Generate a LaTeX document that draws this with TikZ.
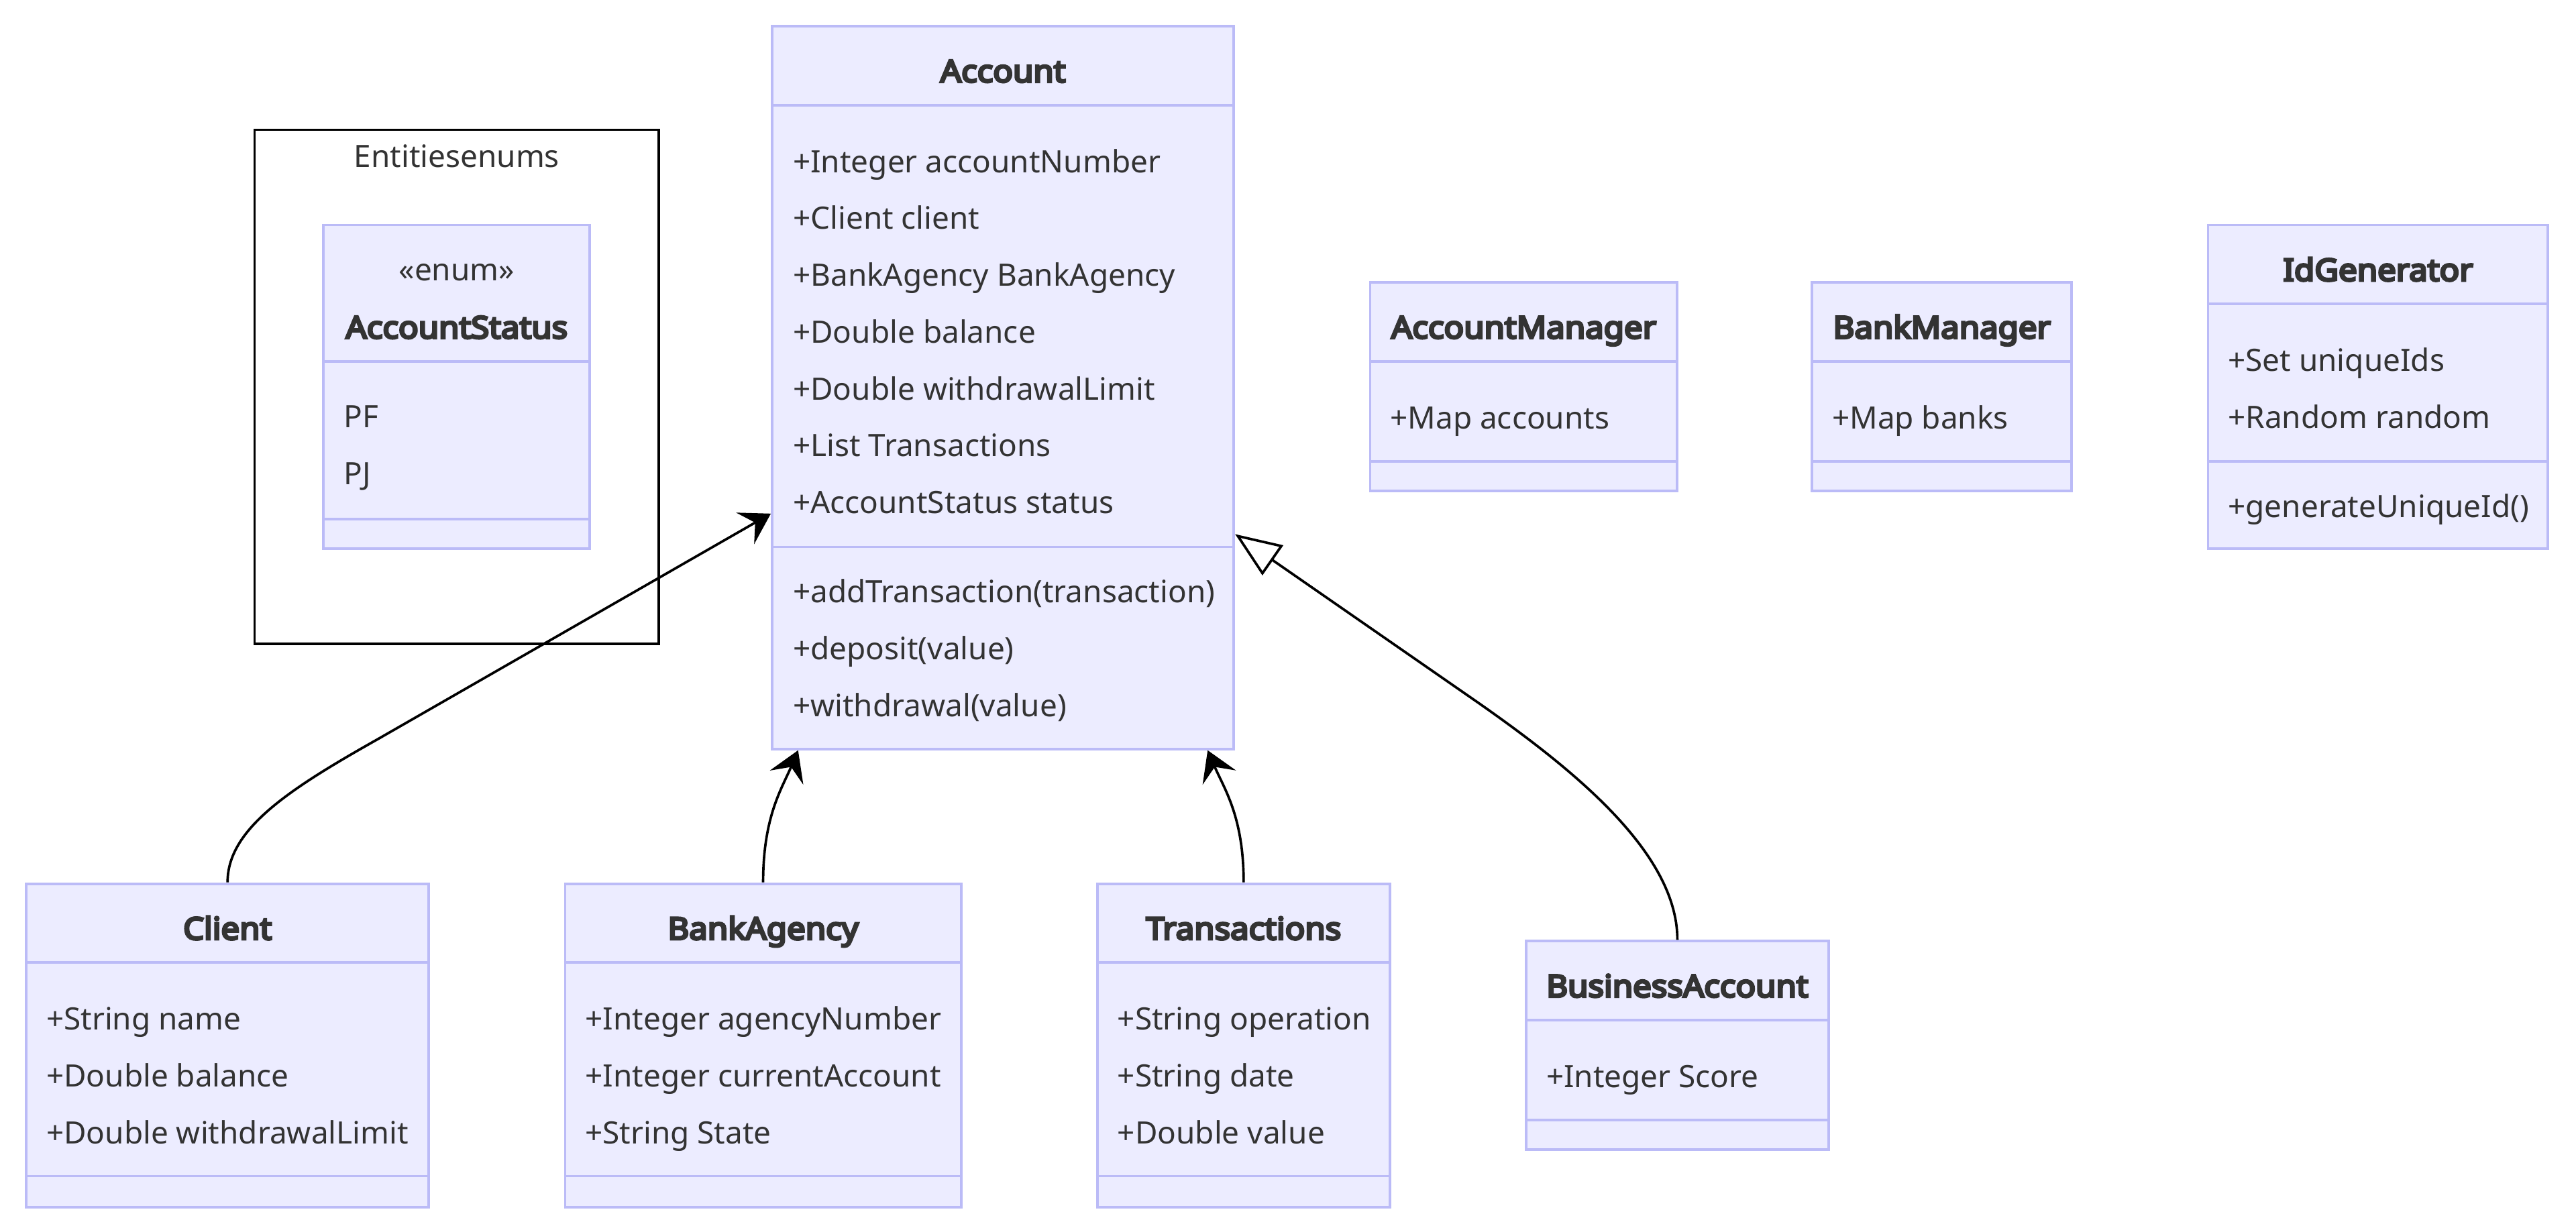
\documentclass[tikz,border=0pt]{standalone}
\usepackage{fontspec}
\setmainfont{Noto Sans}
\newfontfamily\ttlfont{Noto Sans}[FakeBold=7, FakeStretch=1.07]
\usetikzlibrary{arrows.meta}
\definecolor{fillc}{HTML}{ECECFF}
\definecolor{bordc}{HTML}{BBBBF7}
\definecolor{txtc}{HTML}{333333}
\tikzset{
 cbox/.style={draw=bordc, fill=fillc, line width=1.6pt, inner sep=0pt, rectangle},
 cdiv/.style={draw=bordc, line width=1.6pt},
 ttl/.style={font=\fontsize{18.75}{19}\ttlfont, text=txtc, inner sep=0pt, text height=14pt, text depth=0pt},
 stereo/.style={font=\fontsize{18.75}{19}\selectfont, text=txtc, inner sep=0pt, text height=14pt, text depth=0pt},
 attr/.style={font=\fontsize{18.75}{19}\selectfont, text=txtc, inner sep=0pt, anchor=west, text height=14pt, text depth=0pt},
 assoc/.style={draw=black, line width=1.5pt, -{Stealth[length=18pt, width=22pt, inset=7pt]}},
 inherit/.style={draw=black, line width=1.5pt, -{Triangle[open, length=28pt, width=22pt, fill=white]}},
 clusterbox/.style={draw=black, line width=1.5pt, fill=white, inner sep=0pt, rectangle},
 clusterlbl/.style={font=\fontsize{18.75}{19}\selectfont, text=txtc, inner sep=0pt, text height=14pt, text depth=0pt}
}
\begin{document}
\begin{tikzpicture}[x=1pt, y=-1pt]
\useasboundingbox (0,0) rectangle (1568,747.6);

% cluster
\node[clusterbox, minimum width=246pt, minimum height=313pt] (cluster) at (278,235.5) {};
\node[clusterlbl] (clusterlabel) at (278,95) {Entitiesenums};

% AccountStatus
\node[cbox, minimum width=162pt, minimum height=197pt] (status) at (278,235.5) {};
\draw[cdiv] (status.west |- 0,220) -- (status.east |- 0,220);
\draw[cdiv] (status.west |- 0,316) -- (status.east |- 0,316);
\node[stereo] (status-s) at (278,164) {«enum»};
\node[ttl] (status-t) at (278,199) {AccountStatus};
\node[attr] (status-a1) at (209,253.5) {PF};
\node[attr] (status-a2) at (209,288) {PJ};

% Account
\node[cbox, minimum width=281pt, minimum height=440pt] (acc) at (610.5,236) {};
\draw[cdiv] (acc.west |- 0,64) -- (acc.east |- 0,64);
\draw[cdiv] (acc.west |- 0,333) -- (acc.east |- 0,333);
\node[ttl] (acc-t) at (610.5,43) {Account};
\node[attr] (acc-a1) at (482.5,98) {+Integer accountNumber};
\node[attr] (acc-a2) at (482.5,132.6) {+Client client};
\node[attr] (acc-a3) at (482.5,167.2) {+BankAgency BankAgency};
\node[attr] (acc-a4) at (482.5,201.8) {+Double balance};
\node[attr] (acc-a5) at (482.5,236.4) {+Double withdrawalLimit};
\node[attr] (acc-a6) at (482.5,271) {+List Transactions};
\node[attr] (acc-a7) at (482.5,305.6) {+AccountStatus status};
\node[attr] (acc-m1) at (482.5,360) {+addTransaction(transaction)};
\node[attr] (acc-m2) at (482.5,394.6) {+deposit(value)};
\node[attr] (acc-m3) at (482.5,429.2) {+withdrawal(value)};

% AccountManager
\node[cbox, minimum width=187pt, minimum height=127pt] (accmgr) at (927.5,235.5) {};
\draw[cdiv] (accmgr.west |- 0,220) -- (accmgr.east |- 0,220);
\draw[cdiv] (accmgr.west |- 0,281) -- (accmgr.east |- 0,281);
\node[ttl] (accmgr-t) at (927.5,199) {AccountManager};
\node[attr] (accmgr-a1) at (846,254) {+Map accounts};

% BankManager
\node[cbox, minimum width=158pt, minimum height=127pt] (bankmgr) at (1182,235.5) {};
\draw[cdiv] (bankmgr.west |- 0,220) -- (bankmgr.east |- 0,220);
\draw[cdiv] (bankmgr.west |- 0,281) -- (bankmgr.east |- 0,281);
\node[ttl] (bankmgr-t) at (1182,199) {BankManager};
\node[attr] (bankmgr-a1) at (1115,254) {+Map banks};

% IdGenerator
\node[cbox, minimum width=207pt, minimum height=197pt] (idgen) at (1447.5,235.5) {};
\draw[cdiv] (idgen.west |- 0,185) -- (idgen.east |- 0,185);
\draw[cdiv] (idgen.west |- 0,281) -- (idgen.east |- 0,281);
\node[ttl] (idgen-t) at (1447.5,164) {IdGenerator};
\node[attr] (idgen-a1) at (1356,219) {+Set uniqueIds};
\node[attr] (idgen-a2) at (1356,253.6) {+Random random};
\node[attr] (idgen-m1) at (1356,308) {+generateUniqueId()};

% Client
\node[cbox, minimum width=245pt, minimum height=197pt] (client) at (138.5,636.5) {};
\draw[cdiv] (client.west |- 0,586) -- (client.east |- 0,586);
\draw[cdiv] (client.west |- 0,716) -- (client.east |- 0,716);
\node[ttl] (client-t) at (138.5,565) {Client};
\node[attr] (client-a1) at (28,620) {+String name};
\node[attr] (client-a2) at (28,654.6) {+Double balance};
\node[attr] (client-a3) at (28,689.2) {+Double withdrawalLimit};

% BankAgency
\node[cbox, minimum width=241pt, minimum height=197pt] (agency) at (464.5,636.5) {};
\draw[cdiv] (agency.west |- 0,586) -- (agency.east |- 0,586);
\draw[cdiv] (agency.west |- 0,716) -- (agency.east |- 0,716);
\node[ttl] (agency-t) at (464.5,565) {BankAgency};
\node[attr] (agency-a1) at (356,620) {+Integer agencyNumber};
\node[attr] (agency-a2) at (356,654.6) {+Integer currentAccount};
\node[attr] (agency-a3) at (356,689.2) {+String State};

% Transactions
\node[cbox, minimum width=178pt, minimum height=197pt] (trans) at (757,636.5) {};
\draw[cdiv] (trans.west |- 0,586) -- (trans.east |- 0,586);
\draw[cdiv] (trans.west |- 0,716) -- (trans.east |- 0,716);
\node[ttl] (trans-t) at (757,565) {Transactions};
\node[attr] (trans-a1) at (680,620) {+String operation};
\node[attr] (trans-a2) at (680,654.6) {+String date};
\node[attr] (trans-a3) at (680,689.2) {+Double value};

% BusinessAccount
\node[cbox, minimum width=184pt, minimum height=127pt] (busacc) at (1021,636.5) {};
\draw[cdiv] (busacc.west |- 0,621) -- (busacc.east |- 0,621);
\draw[cdiv] (busacc.west |- 0,682) -- (busacc.east |- 0,682);
\node[ttl] (busacc-t) at (1021,600) {BusinessAccount};
\node[attr] (busacc-a1) at (941,655) {+Integer Score};

% connectors
\draw[assoc] (client.north) .. controls (138.5,505) and (175,481) .. (230,450) -- ([yshift=-297.5pt]acc.north west);
\draw[assoc] (agency.north) .. controls (464.5,497) and (476,480) .. ([xshift=16.6pt]acc.south west);
\draw[assoc] (trans.north) .. controls (757,497) and (745,480) .. ([xshift=-16.7pt]acc.south east);
\draw[inherit] (busacc.north) .. controls (1021,520) and (960,470) .. (900,428) -- ([yshift=-310pt]acc.north east);
\end{tikzpicture}
\end{document}
